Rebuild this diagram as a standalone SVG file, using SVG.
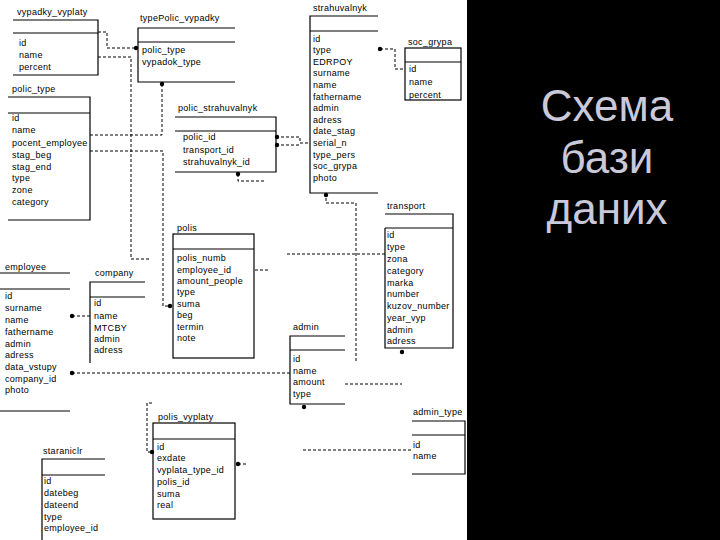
<svg xmlns="http://www.w3.org/2000/svg" width="720" height="540" viewBox="0 0 720 540">
<style>
.t{font-family:"Liberation Sans",Arial,sans-serif;font-size:9px;letter-spacing:0.3px;fill:#000}
.b{stroke:#000;stroke-width:1.2;fill:none}
.c{stroke:#000;stroke-width:1;stroke-dasharray:3 2;fill:none}
.d{fill:#000}
.h{font-family:"Liberation Sans",Arial,sans-serif;font-size:44px;fill:#c9c9d9;text-anchor:middle}
</style>
<rect x="0" y="0" width="720" height="540" fill="#fff"/>
<rect x="467" y="0" width="253" height="540" fill="#000"/>
<g id="title">
<text class="h" x="607" y="121">Схема</text>
<text class="h" x="607" y="173">бази</text>
<text class="h" x="607" y="224">даних</text>
</g>
<g id="connectors">
<path class="c" d="M98,32 H107 V48 H136"/>
<path class="c" d="M98,57 H131 V259 H150"/>
<path class="c" d="M162,84 V135 H90"/>
<path class="c" d="M90,151 H163 V306 H170"/>
<path class="c" d="M276,137 H300 V143 H310"/>
<path class="c" d="M276,145 H300"/>
<path class="c" d="M238,174 V181 H265"/>
<path class="c" d="M380,49 H395 V69 H405"/>
<path class="c" d="M326,193 V203 H356 V363"/>
<path class="c" d="M287,254 H385"/>
<path class="c" d="M255,270 H268"/>
<path class="c" d="M72,316 H90"/>
<path class="c" d="M72,373 H290"/>
<path class="c" d="M345,384 H402"/>
<path class="c" d="M303,450 H412"/>
<path class="c" d="M152,403 H147 V452 H152"/>
<path class="c" d="M238,464 H247"/>
<circle class="d" cx="136" cy="48" r="2.2"/>
<circle class="d" cx="162" cy="84" r="2.2"/>
<circle class="d" cx="170" cy="306" r="2.2"/>
<circle class="d" cx="277" cy="137" r="2.2"/>
<circle class="d" cx="277" cy="145" r="2.2"/>
<circle class="d" cx="238" cy="174" r="2.2"/>
<circle class="d" cx="380" cy="49" r="2.2"/>
<circle class="d" cx="326" cy="195" r="2.2"/>
<circle class="d" cx="72" cy="316" r="2.2"/>
<circle class="d" cx="72" cy="373" r="2.2"/>
<circle class="d" cx="402" cy="352" r="2.2"/>
<circle class="d" cx="304" cy="407" r="2.2"/>
<circle class="d" cx="152" cy="452" r="2.2"/>
<circle class="d" cx="238" cy="464" r="2.2"/>
</g>
<g id="vypadky_vyplaty">
<path class="b" d="M13,20 H98 V75 H13 M13,33 H98"/>
<text class="t" x="17" y="15">vypadky_vyplaty</text>
<text class="t" x="19" y="46">id</text>
<text class="t" x="19" y="58">name</text>
<text class="t" x="19" y="70">percent</text>
</g>
<g id="typePolic_vypadky">
<path class="b" d="M235,28 H138 V82 H235 M138,42 H235"/>
<text class="t" x="140" y="21">typePolic_vypadky</text>
<text class="t" x="142" y="53">polic_type</text>
<text class="t" x="142" y="65">vypadok_type</text>
</g>
<g id="polic_type">
<path class="b" d="M8,97 H90 V220 H8 M8,113 H90"/>
<text class="t" x="12" y="92">polic_type</text>
<text class="t" x="12" y="121">id</text>
<text class="t" x="12" y="133">name</text>
<text class="t" x="12" y="146">pocent_employee</text>
<text class="t" x="12" y="158">stag_beg</text>
<text class="t" x="12" y="170">stag_end</text>
<text class="t" x="12" y="181">type</text>
<text class="t" x="12" y="193">zone</text>
<text class="t" x="12" y="205">category</text>
</g>
<g id="polic_strahuvalnyk">
<path class="b" d="M175,117 H276 V172 H175 M175,131 H276"/>
<text class="t" x="178" y="111">polic_strahuvalnyk</text>
<text class="t" x="183" y="140">polic_id</text>
<text class="t" x="183" y="153">transport_id</text>
<text class="t" x="183" y="165">strahuvalnyk_id</text>
</g>
<g id="strahuvalnyk">
<path class="b" d="M378,16 H310 V193 H378 M310,31 H378"/>
<text class="t" x="313" y="11">strahuvalnyk</text>
<text class="t" x="313" y="42">id</text>
<text class="t" x="313" y="53">type</text>
<text class="t" x="313" y="65">EDRPOY</text>
<text class="t" x="313" y="76">surname</text>
<text class="t" x="313" y="88">name</text>
<text class="t" x="313" y="100">fathername</text>
<text class="t" x="313" y="111">admin</text>
<text class="t" x="313" y="123">adress</text>
<text class="t" x="313" y="134">date_stag</text>
<text class="t" x="313" y="146">serial_n</text>
<text class="t" x="313" y="158">type_pers</text>
<text class="t" x="313" y="169">soc_grypa</text>
<text class="t" x="313" y="181">photo</text>
</g>
<g id="soc_grypa">
<rect class="b" x="405" y="48" width="56" height="52"/>
<path class="b" d="M405,62 H461"/>
<text class="t" x="408" y="45">soc_grypa</text>
<text class="t" x="409" y="72">id</text>
<text class="t" x="409" y="85">name</text>
<text class="t" x="409" y="98">percent</text>
</g>
<g id="employee">
<path class="b" d="M0,273 H70 M0,289 H70 M0,411 H70"/>
<text class="t" x="5" y="270">employee</text>
<text class="t" x="5" y="299">id</text>
<text class="t" x="5" y="311">surname</text>
<text class="t" x="5" y="323">name</text>
<text class="t" x="5" y="335">fathername</text>
<text class="t" x="5" y="347">admin</text>
<text class="t" x="5" y="358">adress</text>
<text class="t" x="5" y="370">data_vstupy</text>
<text class="t" x="5" y="382">company_id</text>
<text class="t" x="5" y="393">photo</text>
</g>
<g id="company">
<path class="b" d="M145,282 H90 V363 M90,297 H145"/>
<text class="t" x="95" y="276">company</text>
<text class="t" x="94" y="306">id</text>
<text class="t" x="94" y="319">name</text>
<text class="t" x="94" y="331">MTCBY</text>
<text class="t" x="94" y="342">admin</text>
<text class="t" x="94" y="353">adress</text>
</g>
<g id="polis">
<rect class="b" x="173" y="234" width="81" height="124"/>
<path class="b" d="M173,249 H254"/>
<text class="t" x="177" y="231">polis</text>
<text class="t" x="177" y="261">polis_numb</text>
<text class="t" x="177" y="273">employee_id</text>
<text class="t" x="177" y="284">amount_people</text>
<text class="t" x="177" y="295">type</text>
<text class="t" x="177" y="307">suma</text>
<text class="t" x="177" y="318">beg</text>
<text class="t" x="177" y="330">termin</text>
<text class="t" x="177" y="341">note</text>
</g>
<g id="transport">
<path class="b" d="M385,214 H453 V348 H385 V228 M385,228 H453"/>
<text class="t" x="387" y="209">transport</text>
<text class="t" x="387" y="238">id</text>
<text class="t" x="387" y="250">type</text>
<text class="t" x="387" y="262">zona</text>
<text class="t" x="387" y="274">category</text>
<text class="t" x="387" y="286">marka</text>
<text class="t" x="387" y="297">number</text>
<text class="t" x="387" y="309">kuzov_number</text>
<text class="t" x="387" y="321">year_vyp</text>
<text class="t" x="387" y="333">admin</text>
<text class="t" x="387" y="344">adress</text>
</g>
<g id="admin">
<path class="b" d="M345,336 H290 V404 H345 M290,350 H345"/>
<text class="t" x="293" y="330">admin</text>
<text class="t" x="293" y="362">id</text>
<text class="t" x="293" y="374">name</text>
<text class="t" x="293" y="385">amount</text>
<text class="t" x="293" y="397">type</text>
</g>
<g id="admin_type">
<path class="b" d="M412,421 H465 V474 H412 M412,435 H465"/>
<text class="t" x="413" y="415">admin_type</text>
<text class="t" x="413" y="448">id</text>
<text class="t" x="413" y="459">name</text>
</g>
<g id="polis_vyplaty">
<rect class="b" x="153" y="423" width="82" height="96"/>
<path class="b" d="M153,439 H235"/>
<text class="t" x="158" y="420">polis_vyplaty</text>
<text class="t" x="157" y="450">id</text>
<text class="t" x="157" y="461">exdate</text>
<text class="t" x="157" y="473">vyplata_type_id</text>
<text class="t" x="157" y="485">polis_id</text>
<text class="t" x="157" y="497">suma</text>
<text class="t" x="157" y="508">real</text>
</g>
<g id="staraniclr">
<path class="b" d="M105,459 H42 V540 M42,475 H105"/>
<text class="t" x="43" y="454">staraniclr</text>
<text class="t" x="44" y="484">id</text>
<text class="t" x="44" y="496">datebeg</text>
<text class="t" x="44" y="508">dateend</text>
<text class="t" x="44" y="520">type</text>
<text class="t" x="44" y="531">employee_id</text>
</g>
</svg>
